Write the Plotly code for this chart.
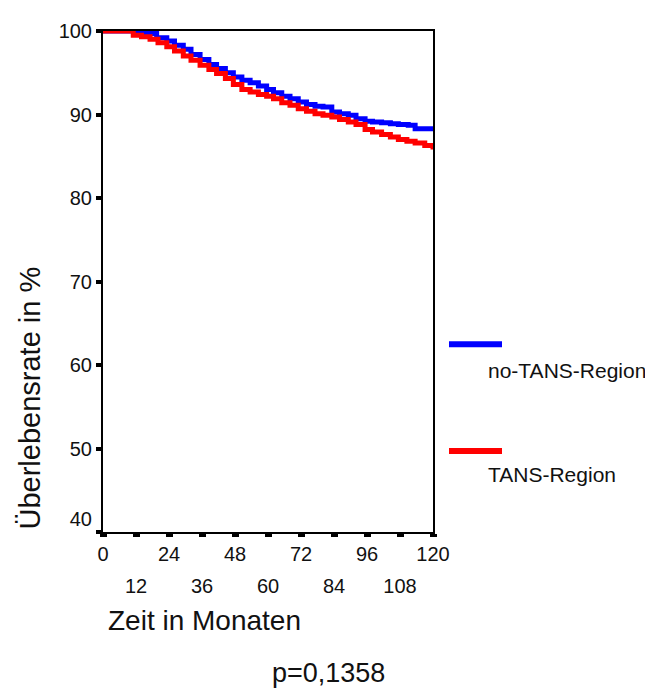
import plotly.graph_objects as go

# --- data ---
months_no_tans = [0, 11, 14.7, 19.5, 23.2, 26, 29.2, 32, 35.3, 38.5, 41.3, 44.5, 47.4,
                  50.5, 53.5, 56.5, 59.5, 62, 65, 68, 71, 74, 77.1, 80, 83.2, 86, 89.2,
                  92, 95.3, 98, 101.3, 104.5, 107.4, 111, 113.5, 120]
surv_no_tans = [100, 100, 99.7, 99.2, 98.8, 98.3, 97.8, 97.2, 96.6, 96.0, 95.5, 95.0, 94.5,
                94.1, 93.8, 93.4, 93.0, 92.6, 92.2, 91.9, 91.5, 91.2, 91.0, 90.9, 90.3, 90.1,
                89.9, 89.5, 89.2, 89.1, 89.0, 88.9, 88.8, 88.7, 88.3, 88.2]

months_tans = [0, 7.3, 11, 14, 17.1, 20, 23.2, 26, 29.2, 32, 35.3, 38.5, 41.3, 44.5, 47.4,
               50.5, 53.5, 56.5, 59.5, 62, 65, 68, 71, 74, 77.1, 80, 83.2, 86, 89.2, 92,
               95.3, 98, 101.3, 104.5, 107.4, 110.5, 113.5, 117, 120]
surv_tans = [100, 100, 99.5, 99.3, 99.0, 98.6, 98.1, 97.6, 97.0, 96.5, 95.9, 95.4, 94.9,
             94.3, 93.6, 93.0, 92.7, 92.4, 92.2, 91.9, 91.4, 91.1, 90.7, 90.4, 90.1, 89.9,
             89.7, 89.4, 89.1, 88.8, 88.2, 87.9, 87.6, 87.3, 87.0, 86.8, 86.6, 86.3, 85.8]

x_major_ticks = [0, 24, 48, 72, 96, 120]
x_minor_ticks = [12, 36, 60, 84, 108]
y_ticks = [40, 50, 60, 70, 80, 90, 100]
y_ticktext = ["40<br> ", "50", "60", "70", "80", "90", "100"]

series_names = ["no-TANS-Region", "TANS-Region"]
series_colors = ["#0000ff", "#ff0000"]

FONT = "Liberation Sans, Arial, sans-serif"

# page body has an 8px margin; plot area sits at (103, 25)-(433, 532) of the window
OFF = 8
PL, PT, PW, PH = 103, 25, 330, 507

fig = go.Figure()
fig.add_trace(go.Scatter(x=months_no_tans, y=surv_no_tans, mode="lines",
                         line=dict(color=series_colors[0], width=5, shape="hv"),
                         name=series_names[0], showlegend=False))
fig.add_trace(go.Scatter(x=months_tans, y=surv_tans, mode="lines",
                         line=dict(color=series_colors[1], width=5, shape="hv"),
                         name=series_names[1], showlegend=False))
# invisible trace to activate second x axis for the lower row of tick labels
fig.add_trace(go.Scatter(x=[0, 120], y=[40, 40], xaxis="x2", mode="lines",
                         line=dict(width=0), hoverinfo="skip", showlegend=False))

fig.update_layout(
    width=653 - OFF, height=693 - OFF,
    margin=dict(l=PL - OFF, r=220, t=PT - OFF, b=161),
    paper_bgcolor="white", plot_bgcolor="white",
    font=dict(family=FONT, color="#111111", size=20),
    xaxis=dict(range=[0, 120], tickmode="array",
               tickvals=x_major_ticks + x_minor_ticks,
               ticktext=[str(v) for v in x_major_ticks] + [""] * len(x_minor_ticks),
               ticks="outside", ticklen=3, tickwidth=7, tickcolor="black",
               showline=True, linecolor="black", linewidth=2, mirror=True,
               showgrid=False, zeroline=False, tickfont=dict(size=20),
               ticklabelstandoff=0),
    xaxis2=dict(range=[0, 120], overlaying="x", anchor="y", side="bottom",
                tickmode="array", tickvals=x_minor_ticks,
                ticktext=[str(v) for v in x_minor_ticks],
                ticks="", showline=False, showgrid=False, zeroline=False,
                tickfont=dict(size=20), ticklabelstandoff=40),
    yaxis=dict(range=[40, 100], tickmode="array", tickvals=y_ticks,
               ticktext=y_ticktext,
               ticks="outside", ticklen=5, tickwidth=4, tickcolor="black",
               showline=True, linecolor="black", linewidth=2, mirror=True,
               showgrid=False, zeroline=False, tickfont=dict(size=20)),
)

def px_x(x):
    return (x - PL) / PW

def px_y(y):
    return (PT + PH - y) / PH

# axis titles and p-value
fig.add_annotation(text="Überlebensrate in %", textangle=-90, xref="paper", yref="y",
                   x=px_x(29), y=40, xanchor="center", yanchor="bottom",
                   showarrow=False, font=dict(size=29))
fig.add_annotation(text="Zeit in Monaten", xref="paper", yref="paper",
                   x=px_x(106), y=px_y(622), xanchor="left", yanchor="middle",
                   showarrow=False, font=dict(size=28))
fig.add_annotation(text="p=0,1358", xref="paper", yref="paper",
                   x=px_x(328), y=px_y(675), xanchor="center", yanchor="middle",
                   showarrow=False, font=dict(size=27))

# custom legend
legend_line_y = [342, 450]
legend_text_y = [369, 474]
for name, color, ly, ty in zip(series_names, series_colors, legend_line_y, legend_text_y):
    fig.add_shape(type="line", xref="paper", yref="paper",
                  x0=px_x(449), x1=px_x(502), y0=px_y(ly), y1=px_y(ly),
                  line=dict(color=color, width=6))
    fig.add_annotation(text=name, xref="paper", yref="paper",
                       x=px_x(486), y=px_y(ty),
                       xanchor="left", yanchor="middle", showarrow=False,
                       font=dict(size=21))

fig.write_html("out.html")
